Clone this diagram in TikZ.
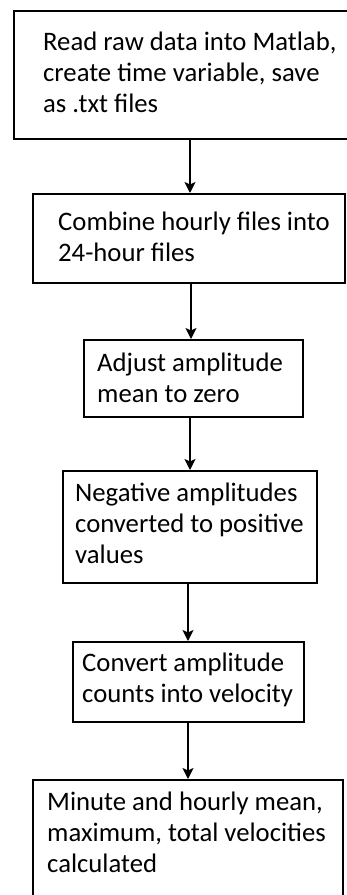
\documentclass[tikz,border=0pt]{standalone}
\usepackage{fontspec}
\setmainfont{Carlito}
\usetikzlibrary{arrows.meta}
\tikzset{
  stepbox/.style={draw=black, line width=2.2pt, rectangle, inner sep=0pt},
  steptext/.style={anchor=base west, align=left, inner sep=0pt,
    font=\fontsize{26.7}{31}\selectfont},
  flow/.style={draw=black, line width=1.8pt,
    -{Stealth[length=11pt,width=11pt,inset=2.5pt]}}
}
\newcommand{\stepnode}[5]{% name, left, top, right, bottom
  \node[stepbox, minimum width={(#4-#2)*1pt}, minimum height={(#5-#3)*1pt},
        anchor=north west] (#1) at (#2,#3) {};}
\begin{document}
\begin{tikzpicture}[x=1pt,y=-1pt]
  \useasboundingbox (0,0) rectangle (347,895);
  \clip (0,0) rectangle (347,895);
  % process boxes
  \stepnode{b1}{13}{10}{362}{138}
  \stepnode{b2}{32}{193}{344}{282}
  \stepnode{b3}{83}{339}{302}{416}
  \stepnode{b4}{62}{470}{316}{582}
  \stepnode{b5}{72}{641}{303}{721}
  \stepnode{b6}{32}{779}{342}{910}
  % box texts (placed by the baseline of their last line)
  \node[steptext] (t1) at (43,112) {Read raw data into Matlab,\\create time variable, save\\as .txt files};
  \node[steptext] (t2) at (58,261) {Combine hourly files into\\24-hour files};
  \node[steptext] (t3) at (97,402) {Adjust amplitude\\mean to zero};
  \node[steptext] (t4) at (75,563) {Negative amplitudes\\converted to positive\\values};
  \node[steptext] (t5) at (82,702) {Convert amplitude\\counts into velocity};
  \node[steptext] (t6) at (47,872) {Minute and hourly mean,\\maximum, total velocities\\calculated};
  % connector columns
  \coordinate (x1) at (190,0);
  \coordinate (x2) at (191,0);
  \coordinate (x3) at (190,0);
  \coordinate (x4) at (188,0);
  \coordinate (x5) at (188,0);
  % connectors
  \draw[flow] (b1.south -| x1) -- (b2.north -| x1);
  \draw[flow] (b2.south -| x2) -- (b3.north -| x2);
  \draw[flow] (b3.south -| x3) -- (b4.north -| x3);
  \draw[flow] (b4.south -| x4) -- (b5.north -| x4);
  \draw[flow] (b5.south -| x5) -- (b6.north -| x5);
\end{tikzpicture}
\end{document}
